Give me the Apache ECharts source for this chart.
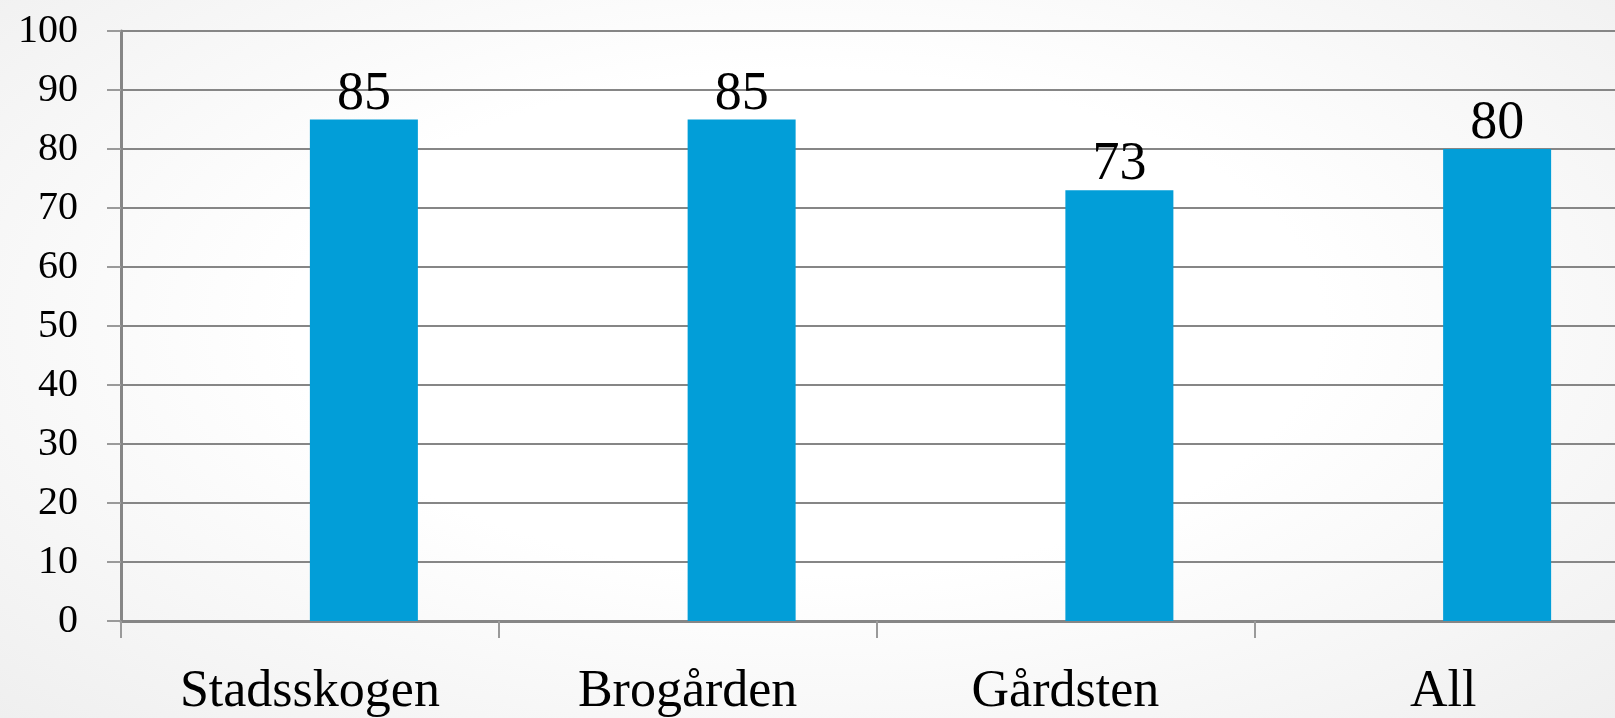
<!DOCTYPE html>
<html>
<head>
<meta charset="utf-8">
<script src="https://cdn.jsdelivr.net/npm/echarts@6/dist/echarts.min.js"></script>
<style>
html,body{margin:0;padding:0;width:1615px;height:718px;overflow:hidden;
background:radial-gradient(ellipse at 50% 45%, #ffffff 45%, #efefef 100%);}
#c{width:1615px;height:718px;}
</style>
</head>
<body>
<div id="c"></div>
<script>
const categories = ['Stadsskogen', 'Brogården', 'Gårdsten', 'All'];
const emptySeries = [];
const values = [85, 85, 73, 80];
const yMin = 0, yMax = 100, yStep = 10;

const chart = echarts.init(document.getElementById('c'), null, {renderer: 'canvas'});
const font = '"Liberation Serif", "Times New Roman", serif';
const axisGray = '#868686';
chart.setOption({
  animation: false,
  backgroundColor: 'transparent',
  grid: {left: 121, width: 1511, top: 31, bottom: 97, containLabel: false, outerBoundsMode: 'none'},
  xAxis: {
    type: 'category',
    data: categories,
    boundaryGap: true,
    axisLine: {show: true, lineStyle: {color: axisGray, width: 3}},
    axisTick: {show: true, alignWithLabel: false, length: 17, lineStyle: {color: '#9a9a9a', width: 2}},
    axisLabel: {fontFamily: font, fontSize: 52, color: '#000', margin: 45, interval: 0, hideOverlap: false}
  },
  yAxis: {
    type: 'value',
    min: yMin, max: yMax, interval: yStep,
    axisLine: {show: true, lineStyle: {color: axisGray, width: 3}},
    axisTick: {show: true, length: 14, lineStyle: {color: '#9a9a9a', width: 2}},
    splitLine: {show: true, lineStyle: {color: axisGray, width: 2}},
    axisLabel: {fontFamily: font, fontSize: 40, color: '#000', margin: 43}
  },
  series: [
    {type: 'bar', name: 'Serie 1', data: emptySeries, barWidth: 108, barGap: '0%'},
    {type: 'bar', name: 'Serie 2', data: values, barWidth: 108, barGap: '0%',
     itemStyle: {color: '#029ED8'},
     label: {show: true, position: 'top', distance: -2, fontFamily: font, fontSize: 54, color: '#000'}}
  ]
});
</script>
</body>
</html>
